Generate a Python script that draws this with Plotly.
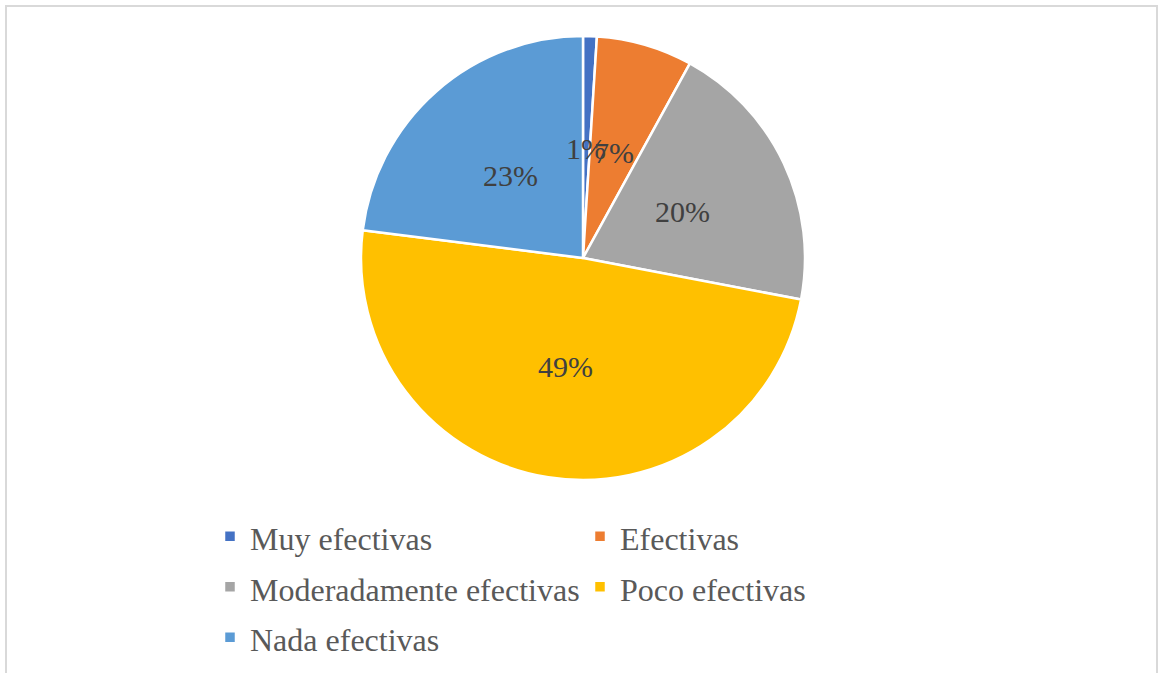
import math
import plotly.graph_objects as go

# Survey answers and their share (percent)
categories = ["Muy efectivas", "Efectivas", "Moderadamente efectivas", "Poco efectivas", "Nada efectivas"]
shares = [1, 7, 20, 49, 23]
colors = ["#4472C4", "#ED7D31", "#A5A5A5", "#FFC000", "#5B9BD5"]

W, H = 1158, 673
ML, MR = 210, 202
PW = W - ML - MR

# pie geometry in pixels
CX, CY, R = 583, 258, 222

SERIF = "Liberation Serif, Times New Roman, serif"


def px_to_paper(x, y):
    return (x - ML) / PW, 1 - y / H


x0, _ = px_to_paper(CX - R, 0)
x1, _ = px_to_paper(CX + R, 0)
_, y1 = px_to_paper(0, CY - R)
_, y0 = px_to_paper(0, CY + R)

legend_labels = [f'<span style="font-size:32px">{c}</span>' for c in categories]

fig = go.Figure(
    go.Pie(
        labels=legend_labels,
        values=shares,
        sort=False,
        direction="clockwise",
        rotation=0,
        marker=dict(colors=colors, line=dict(color="white", width=2.5)),
        textinfo="none",
        hoverinfo="label+percent",
        domain=dict(x=[x0, x1], y=[y0, y1]),
    )
)

# data labels at the middle angle of each slice, half-way out
annotations = []
total = sum(shares)
cum = 0
label_r = 110
for v in shares:
    mid = (cum + v / 2) / total * 2 * math.pi
    cum += v
    lx = CX + label_r * math.sin(mid)
    ly = CY - label_r * math.cos(mid)
    ax, ay = px_to_paper(lx, ly)
    annotations.append(
        dict(
            x=ax, y=ay, xref="paper", yref="paper",
            text=f"{round(v / total * 100)}%",
            showarrow=False, xanchor="center", yanchor="middle",
            font=dict(family=SERIF, size=30, color="#404040"),
        )
    )

bx0, by1 = px_to_paper(6, 6)
bx1, by0 = px_to_paper(1157, 700)

fig.update_layout(
    width=W,
    height=H,
    margin=dict(l=ML, r=MR, t=0, b=0),
    paper_bgcolor="white",
    plot_bgcolor="white",
    font=dict(family=SERIF, color="#595959"),
    annotations=annotations,
    shapes=[
        dict(type="rect", xref="paper", yref="paper",
             x0=bx0, x1=bx1, y0=by0, y1=by1,
             line=dict(color="#D9D9D9", width=2), layer="below")
    ],
    showlegend=True,
    legend=dict(
        orientation="h",
        x=0, xanchor="left",
        y=px_to_paper(0, 506)[1], yanchor="top",
        entrywidth=325,
        font=dict(family=SERIF, size=36.5, color="#595959"),
        bgcolor="rgba(0,0,0,0)",
        traceorder="normal",
    ),
)

fig.write_html("out.html")
